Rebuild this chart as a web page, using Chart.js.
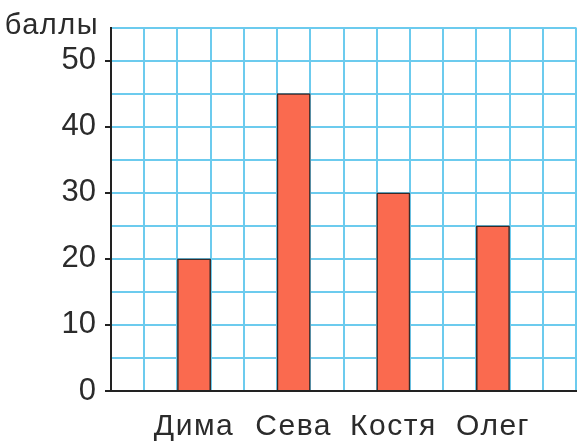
<!DOCTYPE html>
<html>
<head>
<meta charset="utf-8">
<script src="https://cdn.jsdelivr.net/npm/chart.js@4"></script>
<style>
  html, body { margin: 0; padding: 0; background: #fff; }
</style>
</head>
<body>
<canvas id="my-chart" width="587" height="446"></canvas>
<script>
// data
const names = ['Дима', 'Сева', 'Костя', 'Олег'];
const scores = [20, 45, 30, 25];
const yTicks = [0, 10, 20, 30, 40, 50];
const yTitle = 'баллы';

// 14 grid cells along x, a bar in every third cell starting at cell 2
const cellCount = 14;
const labels = [];
const values = [];
for (let i = 0; i < cellCount; i++) {
  labels.push('');
  values.push(null);
}
names.forEach((n, i) => {
  labels[2 + 3 * i] = n;
  values[2 + 3 * i] = scores[i];
});

const gridBlue = '#6ccbee';
const textColor = '#2b2b2b';
const fontFamily = '"Liberation Sans", Arial, sans-serif';

// "баллы" written above the axis labels
const titlePlugin = {
  id: 'ballyTitle',
  afterDraw(chart) {
    const ctx = chart.ctx;
    const area = chart.chartArea;
    ctx.save();
    ctx.font = '29px ' + fontFamily;
    ctx.letterSpacing = '1.5px';
    ctx.fillStyle = textColor;
    ctx.textAlign = 'right';
    ctx.textBaseline = 'alphabetic';
    ctx.fillText(yTitle, area.left - 12, area.top + 6);
    ctx.restore();
  }
};

const ctx = document.getElementById('my-chart').getContext('2d');
const chart = new Chart(ctx, {
  type: 'bar',
  data: {
    labels: labels,
    datasets: [
      {
        label: 'баллы',
        data: values,
        backgroundColor: '#fa6a4f',
        borderColor: '#3a2a28',
        borderWidth: 1.5,
        categoryPercentage: 1,
        barPercentage: 1
      }
    ]
  },
  options: {
    responsive: false,
    animation: false,
    devicePixelRatio: 1,
    layout: { padding: { top: 27, right: 11, left: 0, bottom: 0 } },
    plugins: {
      legend: { display: false },
      tooltip: { enabled: false }
    },
    scales: {
      x: {
        type: 'category',
        offset: true,
        grid: {
          offset: true,
          lineWidth: 2,
          color: c => (c.index === 0 ? 'rgba(0,0,0,0)' : gridBlue),
          drawTicks: false
        },
        border: { color: '#222', width: 2 },
        ticks: {
          autoSkip: false,
          maxRotation: 0,
          padding: 18,
          color: textColor,
          font: { family: fontFamily, size: 30 }
        },
        afterFit: s => { s.height = 55; }
      },
      y: {
        min: 0,
        max: 55,
        ticks: {
          stepSize: 5,
          autoSkip: false,
          padding: 9,
          color: textColor,
          font: { family: fontFamily, size: 31 },
          callback: v => (yTicks.includes(v) ? v : '')
        },
        grid: {
          lineWidth: 2,
          tickLength: 6,
          color: c => (c.index === 0 ? 'rgba(0,0,0,0)' : gridBlue),
          tickColor: c => (yTicks.includes(c.tick.value) ? '#222' : 'rgba(0,0,0,0)'),
          tickWidth: 2
        },
        border: { color: '#222', width: 2 },
        afterFit: s => { s.width = 111; }
      }
    }
  },
  plugins: [titlePlugin]
});

// the names under the bars are set a bit wider apart
const xScale = chart.scales.x;
const drawXLabels = xScale.drawLabels.bind(xScale);
xScale.drawLabels = function (area) {
  ctx.save();
  ctx.letterSpacing = '1.5px';
  drawXLabels(area);
  ctx.restore();
};
chart.draw();
</script>
</body>
</html>
